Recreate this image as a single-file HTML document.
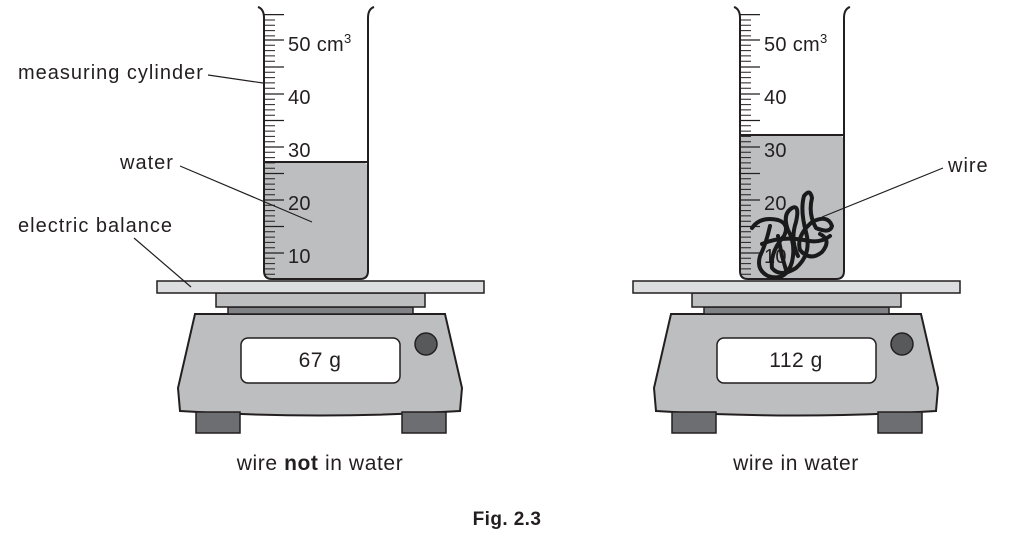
<!DOCTYPE html>
<html><head><meta charset="utf-8"><style>
html,body{margin:0;padding:0;background:#fff;}
svg{display:block;}
text{font-family:"Liberation Sans",Arial,sans-serif;fill:#231f20;}
.lb{font-size:20px;letter-spacing:1px;}
.sc{font-size:20px;letter-spacing:0.3px;}
</style></head><body>
<svg width="1015" height="544" viewBox="0 0 1015 544" xmlns="http://www.w3.org/2000/svg">
<defs>
<g id="scale">
  <path d="M195,314 L445,314 L462,388 L460,411 Q320,420 180,411 L178,388 Z" fill="#bdbec0" stroke="#231f20" stroke-width="2"/>
  <rect x="196" y="412" width="44" height="21" fill="#6d6e71" stroke="#231f20" stroke-width="1.5"/>
  <rect x="402" y="412" width="44" height="21" fill="#6d6e71" stroke="#231f20" stroke-width="1.5"/>
  <rect x="241" y="338" width="159" height="45" rx="7" fill="#fff" stroke="#231f20" stroke-width="1.5"/>
  <circle cx="426" cy="344" r="11" fill="#58595b" stroke="#231f20" stroke-width="1.5"/>
  <rect x="228" y="307" width="185" height="7" fill="#808285" stroke="#231f20" stroke-width="1.5"/>
  <rect x="216" y="293" width="209" height="14" fill="#bdbec0" stroke="#231f20" stroke-width="1.5"/>
  <rect x="157" y="281" width="327" height="12" fill="#dcddde" stroke="#231f20" stroke-width="1.5"/>
</g>
</defs>

<!-- LEFT -->
<use href="#scale"/>
<rect x="264" y="162" width="104" height="116" rx="6" fill="#bdbec0"/>
<line x1="264" y1="162" x2="368" y2="162" stroke="#231f20" stroke-width="2"/>
<path d="M258,7 Q264,9 264,18 L264,271 Q264,279 272,279 L360,279 Q368,279 368,271 L368,18 Q368,9 374,7" fill="none" stroke="#231f20" stroke-width="2"/>
<g id="ticksL" stroke="#231f20" stroke-width="1.2">
  <line x1="264" y1="14.6" x2="284" y2="14.6"/>
  <line x1="264" y1="40" x2="284" y2="40"/>
  <line x1="264" y1="67" x2="284" y2="67"/>
  <line x1="264" y1="94" x2="284" y2="94"/>
  <line x1="264" y1="120.5" x2="284" y2="120.5"/>
  <line x1="264" y1="147" x2="284" y2="147"/>
  <line x1="264" y1="173.5" x2="284" y2="173.5"/>
  <line x1="264" y1="200" x2="284" y2="200"/>
  <line x1="264" y1="226.5" x2="284" y2="226.5"/>
  <line x1="264" y1="253" x2="284" y2="253"/>
</g>
<path id="minorL" stroke="#231f20" stroke-width="1" fill="none" d="
M264,20h11M264,25.3h11M264,30.6h11M264,35.9h11
M264,45.3h11M264,50.6h11M264,55.9h11M264,61.2h11
M264,72.3h11M264,77.6h11M264,82.9h11M264,88.2h11
M264,99.3h11M264,104.6h11M264,109.9h11M264,115.2h11
M264,125.8h11M264,131.1h11M264,136.4h11M264,141.7h11
M264,152.3h11M264,157.6h11M264,162.9h11M264,168.2h11
M264,178.8h11M264,184.1h11M264,189.4h11M264,194.7h11
M264,205.3h11M264,210.6h11M264,215.9h11M264,221.2h11
M264,231.8h11M264,237.1h11M264,242.4h11M264,247.7h11
M264,258.3h11M264,263.6h11M264,268.9h11M264,274.2h11"/>
<text x="288" y="51" class="sc">50 cm<tspan font-size="13" dy="-8">3</tspan></text>
<text x="288" y="104" class="sc">40</text>
<text x="288" y="157" class="sc">30</text>
<text x="288" y="210" class="sc">20</text>
<text x="288" y="263" class="sc">10</text>
<text x="18" y="79" class="lb">measuring cylinder</text>
<line x1="208" y1="75" x2="263" y2="83" stroke="#231f20" stroke-width="1.2"/>
<text x="120" y="169" class="lb">water</text>
<line x1="180" y1="166" x2="312" y2="222" stroke="#231f20" stroke-width="1.2"/>
<text x="18" y="232" class="lb">electric balance</text>
<line x1="134" y1="238" x2="191" y2="287" stroke="#231f20" stroke-width="1.2"/>
<text x="320" y="367" font-size="21" text-anchor="middle" letter-spacing="0.5">67 g</text>
<text x="320" y="470" font-size="21" letter-spacing="0.6" text-anchor="middle">wire <tspan font-weight="bold">not</tspan> in water</text>

<!-- RIGHT -->
<g transform="translate(476,0)">
<use href="#scale"/>
<rect x="264" y="135" width="104" height="143" rx="6" fill="#bdbec0"/>
<line x1="264" y1="135" x2="368" y2="135" stroke="#231f20" stroke-width="2"/>
<path d="M258,7 Q264,9 264,18 L264,271 Q264,279 272,279 L360,279 Q368,279 368,271 L368,18 Q368,9 374,7" fill="none" stroke="#231f20" stroke-width="2"/>
<use href="#ticksL"/>
<use href="#minorL"/>
<text x="288" y="51" class="sc">50 cm<tspan font-size="13" dy="-8">3</tspan></text>
<text x="288" y="104" class="sc">40</text>
<text x="288" y="157" class="sc">30</text>
<text x="288" y="210" class="sc">20</text>
<text x="288" y="263" class="sc">10</text>
<text x="320" y="367" font-size="21" text-anchor="middle" letter-spacing="0.5">112 g</text>
<text x="320" y="470" font-size="21" letter-spacing="0.6" text-anchor="middle">wire in water</text>
</g>
<!-- wire scribble -->
<g fill="none" stroke="#1a1a1a" stroke-width="4" stroke-linecap="round" stroke-linejoin="round">
<path d="M752,228 Q760,216 778,220 Q790,224 784,236 Q770,252 772,268 Q780,278 796,268 Q812,254 806,232 Q800,210 804,196 Q810,188 812,198 Q808,214 816,228 Q830,234 832,226 Q828,214 812,222 Q796,236 800,250 Q810,262 822,252 Q832,240 820,234"/>
<path d="M770,226 Q766,244 760,256 Q756,270 768,276 Q786,282 792,262 Q796,244 788,230 Q782,214 792,208 Q800,204 796,222 Q790,240 798,256"/>
<path d="M778,236 L782,256 L786,270 M762,244 Q780,236 804,240 Q820,244 830,236"/>
</g>
<text x="948" y="172" class="lb">wire</text>
<line x1="943" y1="168" x2="822" y2="217" stroke="#231f20" stroke-width="1.2"/>

<text x="507" y="525" font-size="19" font-weight="bold" letter-spacing="0.4" text-anchor="middle">Fig. 2.3</text>
</svg>
</body></html>
